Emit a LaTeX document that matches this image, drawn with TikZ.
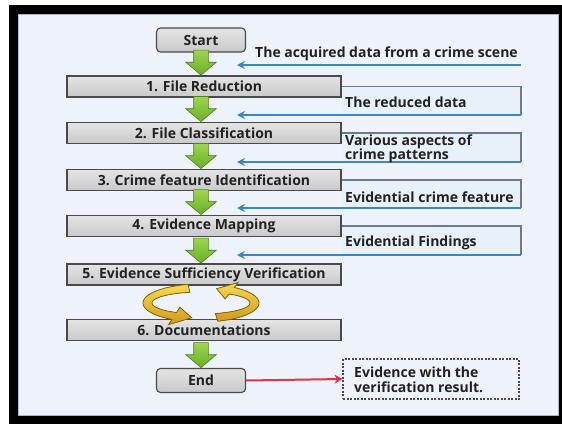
\documentclass[tikz,border=0pt]{standalone}
\usepackage{fontspec}
\setmainfont{Open Sans}
\usetikzlibrary{shapes.arrows,arrows.meta,calc}
\definecolor{panel}{HTML}{EEF2FA}
\definecolor{panelline}{HTML}{AEB6C4}
\definecolor{boxline}{HTML}{4A4A4A}
\definecolor{boxtop}{HTML}{E4E4E4}
\definecolor{boxbot}{HTML}{C9C9C9}
\definecolor{gtop}{HTML}{9ED64E}
\definecolor{gbot}{HTML}{6AAE2A}
\definecolor{gline}{HTML}{4E7F1E}
\definecolor{fbline}{HTML}{6F7A86}
\definecolor{fbarrow}{HTML}{3B86C4}
\definecolor{fbfill}{HTML}{E7F1FA}
\definecolor{redline}{HTML}{E0344C}
\definecolor{cyctop}{HTML}{F4D850}
\definecolor{cycbot}{HTML}{D39A1C}
\definecolor{cycline}{HTML}{86650F}
\definecolor{txt}{HTML}{222222}
\tikzset{
  stepbox/.style={rectangle, draw=boxline, line width=1.1pt, top color=boxtop, bottom color=boxbot,
    minimum width=274pt, minimum height=21pt, inner sep=0pt, text=txt},
  termbox/.style={stepbox, rounded corners=4pt, minimum width=89pt, minimum height=24pt},
  garrow/.style={single arrow, shape border rotate=270, draw=gline, line width=0.6pt,
    top color=gtop, bottom color=gbot, inner sep=7pt, single arrow head extend=8pt,
    single arrow tip angle=100, minimum height=25pt, anchor=tip},
  lbl/.style={anchor=west, inner sep=0pt, align=left, text=txt},
  fbgray/.style={draw=fbline, line width=1.3pt},
  fbblue/.style={draw=fbarrow, line width=1.5pt, -{Stealth[length=8pt,width=8pt]}},
  redarrow/.style={draw=redline, line width=2pt, -{Stealth[length=8pt,width=9pt]}},
  resbox/.style={rectangle, draw=boxline, dashed, dash pattern=on 2pt off 1.5pt, line width=1.1pt,
    minimum width=176pt, minimum height=40pt, inner sep=0pt},
  cyc/.style={draw=cycline, line width=0.8pt, top color=cyctop, bottom color=cycbot},
}
\begin{document}
\begin{tikzpicture}[x=1pt,y=-1pt,font=\bfseries\fontsize{14}{14.5}\selectfont]
\useasboundingbox (0,0) rectangle (562,424);
\fill[white] (0,0) rectangle (562,424);
\fill[black] (9,5) rectangle (562,424);
\filldraw[fill=panel, draw=panelline, line width=0.8pt] (18,14) rectangle (558,415);

% main boxes
\node[termbox] (start) at (201,40) {Start};
\node[stepbox] (b1) at (204,86.5) {1. File Reduction};
\node[stepbox] (b2) at (204,133) {2. File Classification};
\node[stepbox] (b3) at (204,180) {3. Crime feature Identification};
\node[stepbox] (b4) at (204,226) {4. Evidence Mapping};
\node[stepbox] (b5) at (204,274.5) {5. Evidence Sufficiency Verification};
\node[stepbox] (b6) at (204,330) {6. Documentations};
\node[termbox] (end) at (201,380.5) {End};

% green block arrows
\node[garrow] (g1) at (b1.north -| start) {};
\node[garrow] (g2) at (b2.north -| start) {};
\node[garrow] (g3) at (b3.north -| start) {};
\node[garrow] (g4) at (b4.north -| start) {};
\node[garrow] (g5) at (b5.north -| start) {};
\node[garrow] (g6) at (end.north -| start) {};

% feedback coordinates
\coordinate (t0) at (521,65);  \coordinate (a0) at (237,65);
\coordinate (f1) at (521,115); \coordinate (a1) at (237,115);
\coordinate (f2) at (521,162); \coordinate (a2) at (237,162);
\coordinate (f3) at (521,208); \coordinate (a3) at (237,208);
\coordinate (f4) at (521,255); \coordinate (a4) at (237,255);

\fill[fbfill] (b1.east) rectangle (f1);
\fill[fbfill] (b2.east) rectangle (f2);
\fill[fbfill] (b3.east) rectangle (f3);
\fill[fbfill] (b4.east) rectangle (f4);
\draw[fbgray] (b1.east) -- (b1.east -| f1) -- (f1);
\draw[fbgray] (b2.east) -- (b2.east -| f2) -- (f2);
\draw[fbgray] (b3.east) -- (b3.east -| f3) -- (f3);
\draw[fbgray] (b4.east) -- (b4.east -| f4) -- (f4);
\draw[fbblue] (t0) -- (a0);
\draw[fbblue] (f1) -- (a1);
\draw[fbblue] (f2) -- (a2);
\draw[fbblue] (f3) -- (a3);
\draw[fbblue] (f4) -- (a4);

% labels
\node[lbl] (l0) at (255,54) {The acquired data from a crime scene};
\node[lbl] (l1) at (345,102) {The reduced data};
\node[lbl] (l2) at (345,149) {Various aspects of\\crime patterns};
\node[lbl] (l3) at (345,197) {Evidential crime feature};
\node[lbl] (l4) at (345,243) {Evidential Findings};

% cycle arrows
\filldraw[cyc] plot[variable=\t,domain=103:240,samples=40] ({201+58*cos(\t)},{303-19*sin(\t)})
  -- ({201+65*cos(240)},{303-25*sin(240)})
  -- ({201+53.5*cos(260)},{303-15*sin(260)})
  -- ({201+42*cos(240)},{303-5*sin(240)})
  -- plot[variable=\t,domain=240:103,samples=40] ({201+49*cos(\t)},{303-11*sin(\t)}) -- cycle;
\filldraw[cyc] plot[variable=\t,domain=287:415,samples=40] ({201+58*cos(\t)},{303-19*sin(\t)})
  -- ({201+65*cos(415)},{303-25*sin(415)})
  -- ({201+53.5*cos(433)},{303-15*sin(433)})
  -- ({201+42*cos(415)},{303-5*sin(415)})
  -- plot[variable=\t,domain=415:287,samples=40] ({201+49*cos(\t)},{303-11*sin(\t)}) -- cycle;

% result
\node[resbox] (res) at (431,379) {};
\node[lbl] (rest) at (354,380) {Evidence with the\\verification result.};
\draw[redarrow] (end.east) -- (res.west);
\end{tikzpicture}
\end{document}
